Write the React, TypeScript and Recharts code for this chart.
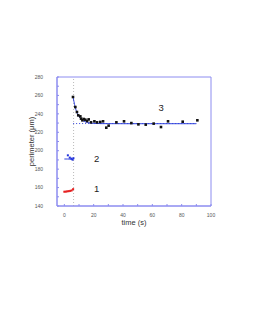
import React from 'react';
import { ComposedChart, Line, Scatter, XAxis, YAxis, ReferenceLine, ReferenceArea } from 'recharts';

// series 1 (red), before the jump
const s1Time = [0, 1, 2, 3, 4, 5, 6];
const s1Perim = [155.5, 155.6, 155.9, 156.1, 156.4, 156.9, 158.3];

// series 2 (blue)
const s2Time = [2.4, 3.7, 4.8, 5.6, 6.2];
const s2Perim = [195, 192.5, 191.4, 190.3, 191.8];
const s2LineTime = [0, 2, 4, 5, 6];
const s2LinePerim = [191, 191, 190.9, 190.6, 190.3];

// series 3 (black points) after the jump
const s3Time = [5.9, 7.5, 8.6, 9.5, 10.9, 11.4, 12.3, 13.2, 14.3, 15.5, 16.6, 18.2, 20.5, 22.3, 24.5, 26.4, 28.6, 30.2, 35.5, 40.7, 45.7, 50.5, 55.5, 60.9, 65.9, 70.7, 80.7, 90.7];
const s3Perim = [258.3, 247.4, 242, 238.4, 237.3, 234.8, 233, 234.4, 233.7, 232.2, 234, 230.8, 231.9, 230.8, 231.2, 231.9, 225, 227.2, 230.8, 231.9, 230, 228.6, 228.3, 229.4, 225.7, 231.9, 231.5, 233];

// fitted relaxation curve for series 3
const fitTime = [6, 7, 8, 9, 10, 11, 12, 14, 16, 19, 25, 40, 90];
const fitPerim = [258, 250, 244, 240, 237, 235, 233.5, 231.5, 230.5, 229.8, 229.4, 229.3, 229.3];

const plateauTime = [6, 90];
const plateauPerim = [229.5, 229.5];

const labelTime = [22, 22, 66];
const labelPerim = [158.5, 191.5, 247];
const labelText = ['1', '2', '3'];

const xTicks = [0, 10, 20, 30, 40, 50, 60, 70, 80, 90, 100];
const yTicks = [140, 150, 160, 170, 180, 190, 200, 210, 220, 230, 240, 250, 260, 270, 280];

const zip = (xs: number[], ys: number[]) => xs.map((x, i) => ({ x, y: ys[i] }));

const s1 = zip(s1Time, s1Perim);
const s2 = zip(s2Time, s2Perim);
const s2Line = zip(s2LineTime, s2LinePerim);
const s3 = zip(s3Time, s3Perim);
const fit = zip(fitTime, fitPerim);
const plateau = zip(plateauTime, plateauPerim);
const labels = labelTime.map((x, i) => ({ x, y: labelPerim[i], text: labelText[i] }));

const FRAME = '#8c8cf0';
const FONT = '"Liberation Sans", Arial, sans-serif';

const Square = (props: any) => {
  const { cx, cy, fill } = props;
  return <rect x={cx - 1.3} y={cy - 1.3} width={2.6} height={2.6} fill={fill} />;
};

const SmallSquare = (props: any) => {
  const { cx, cy, fill } = props;
  return <rect x={cx - 1} y={cy - 1} width={2} height={2} fill={fill} />;
};

const TagLabel = (props: any) => {
  const { cx, cy, payload } = props;
  return (
    <text x={cx} y={cy} textAnchor="middle" dominantBaseline="central" fontSize={9.5} fontFamily={FONT} fill="#222">
      {payload.text}
    </text>
  );
};

const tickStyle = { fontSize: 5, fill: '#555', fontFamily: FONT };

const YTitle = (props: any) => {
  const { viewBox } = props;
  const x = 31.5;
  const y = viewBox.y + viewBox.height / 2;
  return (
    <text x={x} y={y} transform={`rotate(-90, ${x}, ${y})`} textAnchor="middle" dominantBaseline="central" fontSize={7.5} fontFamily={FONT} fill="#333">
      perimeter (μm)
    </text>
  );
};

export default function App() {
  return (
    <div style={{ position: 'absolute', left: 0, top: 0, width: 253, height: 327, background: '#fff' }}>
      <ComposedChart width={253} height={327} margin={{ top: 77, right: 42, bottom: 101, left: 37 }}>
        <XAxis
          xAxisId="b"
          type="number"
          dataKey="x"
          domain={[-5, 100]}
          ticks={xTicks}
          tickFormatter={(v: number) => (v % 20 === 0 ? String(v) : '')}
          height={20}
          stroke={FRAME}
          tickSize={-2}
          tickMargin={9}
          tick={tickStyle}
          allowDataOverflow
          label={{ value: 'time (s)', position: 'insideBottom', offset: 1.5, fontSize: 7.5, fill: '#333', fontFamily: FONT }}
        />
        <XAxis
          xAxisId="t"
          orientation="top"
          type="number"
          dataKey="x"
          domain={[-5, 100]}
          ticks={xTicks}
          tickFormatter={() => ''}
          height={0}
          stroke={FRAME}
          tickSize={-2}
          allowDataOverflow
        />
        <YAxis
          yAxisId="l"
          type="number"
          dataKey="y"
          domain={[140, 280]}
          ticks={yTicks}
          tickFormatter={(v: number) => (v % 20 === 0 ? String(v) : '')}
          width={20}
          stroke={FRAME}
          tickSize={-2}
          tickMargin={16}
          tick={tickStyle}
          allowDataOverflow
          label={{ content: YTitle }}
        />
        <YAxis
          yAxisId="r"
          orientation="right"
          type="number"
          dataKey="y"
          domain={[140, 280]}
          ticks={yTicks}
          tickFormatter={() => ''}
          width={0}
          stroke={FRAME}
          tickSize={-2}
          allowDataOverflow
        />
        <ReferenceArea xAxisId="b" yAxisId="l" x1={-5} x2={100} y1={140} y2={280} fill="none" stroke={FRAME} strokeWidth={1} ifOverflow="visible" />
        <ReferenceLine xAxisId="b" yAxisId="l" x={6.3} stroke="#aaa" strokeDasharray="1 2" strokeWidth={0.8} />
        <Line xAxisId="b" yAxisId="l" data={plateau} dataKey="y" stroke="#3344dd" strokeDasharray="1 2" strokeWidth={1} dot={false} isAnimationActive={false} />
        <Line xAxisId="b" yAxisId="l" data={fit} dataKey="y" type="monotone" stroke="#3344dd" strokeWidth={1} dot={false} isAnimationActive={false} />
        <Line xAxisId="b" yAxisId="l" data={s2Line} dataKey="y" stroke="#3344dd" strokeWidth={1} dot={false} isAnimationActive={false} />
        <Line xAxisId="b" yAxisId="l" data={s1} dataKey="y" stroke="#e83030" strokeWidth={0.5} dot={false} isAnimationActive={false} />
        <Scatter xAxisId="b" yAxisId="l" data={s1} dataKey="y" fill="#e62020" shape={SmallSquare} isAnimationActive={false} />
        <Scatter xAxisId="b" yAxisId="l" data={s2} dataKey="y" fill="#2233dd" shape={SmallSquare} isAnimationActive={false} />
        <Scatter xAxisId="b" yAxisId="l" data={s3} dataKey="y" fill="#111" shape={Square} isAnimationActive={false} />
        <Scatter xAxisId="b" yAxisId="l" data={labels} dataKey="y" fill="#222" shape={TagLabel} isAnimationActive={false} />
      </ComposedChart>
    </div>
  );
}
